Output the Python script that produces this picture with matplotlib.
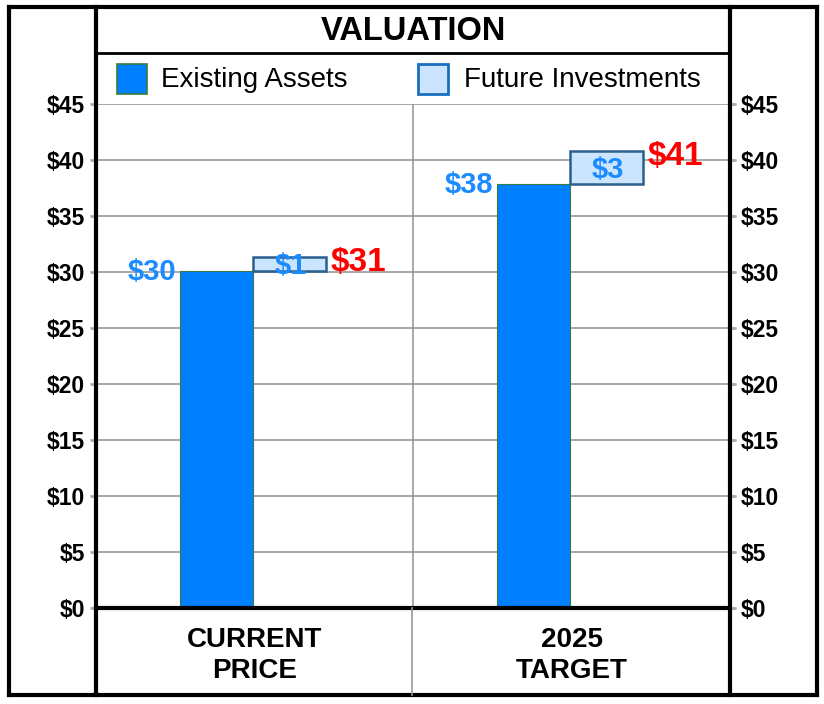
import numpy as np
import matplotlib
matplotlib.use("Agg")
import matplotlib.pyplot as plt
from matplotlib.lines import Line2D
from matplotlib.patches import Rectangle

plt.rcParams['font.family'] = ['Liberation Sans', 'DejaVu Sans']

# data
categories = ['CURRENT\nPRICE', '2025\nTARGET']
existing = [30.1, 37.9]
future = [1.2, 2.9]
existing_labels = ['$30', '$38']
future_labels = ['$1', '$3']
total_labels = ['$31', '$41']
yticks = [0, 5, 10, 15, 20, 25, 30, 35, 40, 45]

BLUE = '#0080ff'
LIGHT = '#cce5ff'
EDGE = '#2a5f8f'
LBL_BLUE = '#1a8cff'

W, H = 824, 704


def fx(x):
    return x / W


def fy(y):
    return 1 - y / H


fig = plt.figure(figsize=(W / 100, H / 100), dpi=100)
ax = fig.add_axes([fx(96), fy(608), (730 - 96) / W, (608 - 104) / H])

x = np.arange(len(categories))
w = 0.229
ax.bar(x - w / 2 - 0.005, existing, w, color=BLUE, edgecolor='#3a7a3a', linewidth=0.8, zorder=3)
ax.bar(x + w / 2 - 0.005, future, w, bottom=existing, color=LIGHT, edgecolor=EDGE,
       linewidth=1.8, zorder=3)

for i in range(len(categories)):
    top = existing[i] + future[i]
    ax.text(x[i] - w - 0.018, existing[i] - 0.1, existing_labels[i], ha='right', va='center',
            color=LBL_BLUE, fontsize=21, fontweight='bold', zorder=4)
    ax.text(x[i] + w / 2, existing[i] + future[i] / 2 - 0.2, future_labels[i], ha='center',
            va='center', color=LBL_BLUE, fontsize=21, fontweight='bold', zorder=4)
    ax.text(x[i] + w + 0.012, top - 0.45, total_labels[i], ha='left', va='center',
            color='red', fontsize=24, fontweight='bold', zorder=4)

ax.set_xlim(-0.5, 1.5)
ax.set_ylim(0, 45)
ax.set_yticks(yticks)
ax.set_yticklabels(['$%d' % v for v in yticks])
ax.set_xticks([])
ax.yaxis.grid(True, color='#999999', linewidth=1.2, zorder=0)
ax.axvline(0.5, color='#999999', linewidth=1.2, zorder=0)
ax.tick_params(axis='y', left=True, right=True, labelleft=True, labelright=True,
               length=4, width=2, color='#aaaaaa', labelsize=16.5, pad=4)
for lab in ax.get_yticklabels():
    lab.set_fontweight('bold')
for s in ax.spines.values():
    s.set_visible(False)
ax.axhline(0, color='black', linewidth=3, zorder=5, clip_on=False)

# frame lines
def line(x0, y0, x1, y1, lw=3, color='black'):
    fig.add_artist(Line2D([fx(x0), fx(x1)], [fy(y0), fy(y1)], color=color,
                          linewidth=lw, solid_capstyle='projecting'))

line(9, 7, 817, 7)
line(9, 695, 817, 695)
line(9, 7, 9, 695)
line(817, 7, 817, 695)
line(96, 7, 96, 695)
line(730, 7, 730, 695)
line(96, 53, 730, 53, lw=2)
line(412, 608, 412, 695, lw=1.2, color='#999999')

fig.text(fx(413), fy(31), 'VALUATION', ha='center', va='center', fontsize=23.5,
         fontweight='bold')

# legend row
fig.add_artist(Rectangle((fx(117), fy(94)), 30 / W, 30 / H, transform=fig.transFigure,
                         facecolor=BLUE, edgecolor='#3a7a3a', linewidth=1.2))
fig.text(fx(161), fy(80), 'Existing Assets', ha='left', va='center', fontsize=20)
fig.add_artist(Rectangle((fx(418), fy(94)), 30 / W, 30 / H, transform=fig.transFigure,
                         facecolor=LIGHT, edgecolor='#1a6fc0', linewidth=2))
fig.text(fx(464), fy(80), 'Future Investments', ha='left', va='center', fontsize=20)

# category labels
for i, cat in enumerate(categories):
    ax.text(x[i], -4.2, cat, ha='center', va='center', fontsize=20, fontweight='bold',
            linespacing=1.25, transform=ax.transData, clip_on=False)

fig.savefig('out.png', dpi=100, facecolor='white')
